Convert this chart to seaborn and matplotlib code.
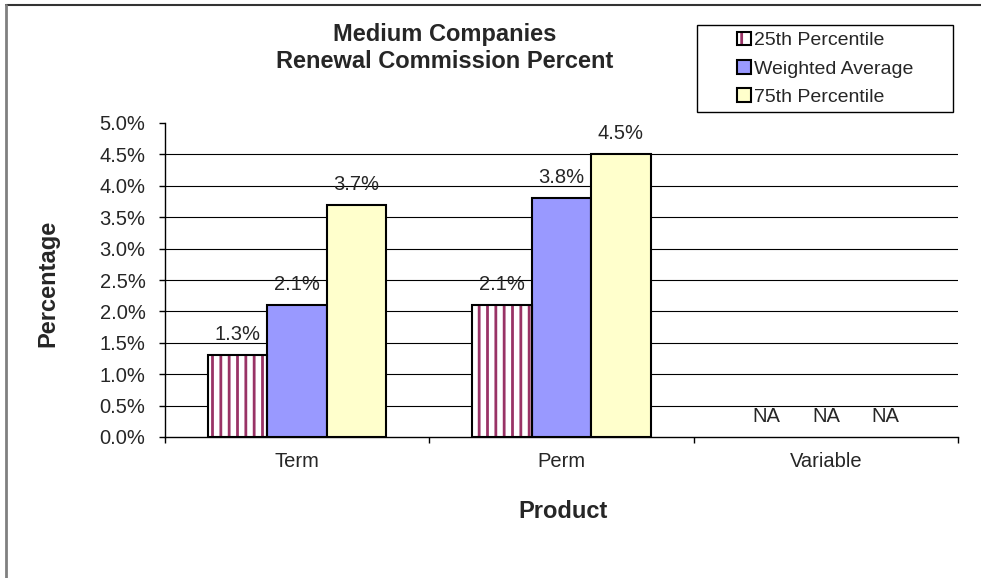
import numpy as np
import pandas as pd
import matplotlib
matplotlib.use('Agg')
import matplotlib.pyplot as plt
import seaborn as sns
from matplotlib.patches import Patch, Rectangle
from matplotlib.lines import Line2D
from matplotlib.legend_handler import HandlerTuple
from matplotlib.ticker import FuncFormatter, FixedLocator

# datos (en %)
products = ['Term', 'Perm', 'Variable']
series = ['25th Percentile', 'Weighted Average', '75th Percentile']
p25 = [1.3, 2.1, np.nan]
w_avg = [2.1, 3.8, np.nan]
p75 = [3.7, 4.5, np.nan]
yticks = [0.0, 0.5, 1.0, 1.5, 2.0, 2.5, 3.0, 3.5, 4.0, 4.5, 5.0]

colors = ['#FFFFFF', '#9999FF', '#FFFFCC']
maroon = '#993366'

sns.set_style('white')
plt.rcParams['font.family'] = ['Liberation Sans', 'DejaVu Sans']
plt.rcParams['hatch.linewidth'] = 2.0

rows = []
for name, vals in zip(series, [p25, w_avg, p75]):
    for prod, v in zip(products, vals):
        rows.append({'Product': prod, 'Serie': name, 'Valor': v})
df = pd.DataFrame(rows)
df['Plot'] = df['Valor'].fillna(0)

fig = plt.figure(figsize=(9.81, 5.78), dpi=100)
ax = fig.add_axes([165/981, 1 - 437/578, 793/981, 314/578])

sns.barplot(data=df, x='Product', y='Plot', hue='Serie', order=products,
            hue_order=series, palette=colors, edgecolor='black',
            linewidth=1.5, width=0.675, saturation=1, legend=False, ax=ax)

# rayado vertical para el percentil 25
for p in ax.containers[0]:
    p.set_facecolor('white')
    p.set_edgecolor(maroon)
    p.set_hatch('||')
    p.set_linewidth(0)
    if p.get_height() > 0:
        ax.add_patch(Rectangle(p.get_xy(), p.get_width(), p.get_height(),
                               fill=False, edgecolor='black', linewidth=1.5,
                               zorder=p.get_zorder() + 0.1))

# barras NA sin borde
for cont in ax.containers:
    for p in cont:
        if p.get_height() == 0:
            p.set_linewidth(0)

# etiquetas de datos
for cont, vals in zip(ax.containers, [p25, w_avg, p75]):
    labels = ['NA' if np.isnan(v) else f'{v:.1f}%' for v in vals]
    ax.bar_label(cont, labels=labels, padding=8, fontsize=14.5)

ax.set_ylim(0, 5)
ax.set_xlim(-0.5, 2.5)
ax.yaxis.set_major_locator(FixedLocator(yticks))
ax.yaxis.set_major_formatter(FuncFormatter(lambda v, pos: f'{v:.1f}%'))
ax.grid(axis='y', color='black', linewidth=0.8)
ax.set_axisbelow(True)
ax.get_ygridlines()[-1].set_visible(False)
ax.get_ygridlines()[0].set_visible(False)

ax.set_xticks([-0.5, 0.5, 1.5, 2.5], minor=True)
ax.tick_params(axis='x', which='major', length=0, pad=11, labelsize=14.5)
ax.tick_params(axis='x', which='minor', length=4, width=1, direction='out', color='black', bottom=True)
ax.tick_params(axis='y', which='major', length=4, width=1, direction='out', color='black', left=True, pad=10, labelsize=14.5)

for s in ['top', 'right']:
    ax.spines[s].set_visible(False)
for s in ['left', 'bottom']:
    ax.spines[s].set_color('black')
    ax.spines[s].set_linewidth(1)
ax.set_xlabel('')
ax.set_ylabel('')

fig.text(445/981, 1 - 48/578, 'Medium Companies\nRenewal Commission Percent',
         ha='center', va='center', fontsize=17, fontweight='bold', linespacing=1.2)
fig.text(48/981, 1 - 283/578, 'Percentage', rotation=90, ha='center', va='center',
         fontsize=17, fontweight='bold')
fig.text(563/981, 1 - 511/578, 'Product', ha='center', va='center',
         fontsize=17, fontweight='bold')

# leyenda con caja propia
h25 = (Patch(facecolor='white', edgecolor=maroon, hatch='|', linewidth=0),
       Patch(fill=False, edgecolor='black', linewidth=1.5))
h_w = Patch(facecolor=colors[1], edgecolor='black', linewidth=1.5)
h75 = Patch(facecolor=colors[2], edgecolor='black', linewidth=1.5)
fig.legend([h25, h_w, h75], series, handler_map={tuple: HandlerTuple(ndivide=1)},
           loc='center', bbox_to_anchor=(825/981, 1 - 69/578), frameon=False,
           fontsize=14, handlelength=0.7, handleheight=0.7, handletextpad=0.15,
           labelspacing=0.55, borderpad=0)
fig.patches.append(Rectangle((697/981, 1 - 112/578), 256/981, 87/578,
                             transform=fig.transFigure, fill=False,
                             edgecolor='black', linewidth=1, figure=fig))

# marco exterior
fig.add_artist(Line2D([6/981, 1], [1 - 5/578, 1 - 5/578], color='#333333', linewidth=1.5))
fig.add_artist(Line2D([6/981, 6/981], [0, 1 - 5/578], color='#808080', linewidth=2))

fig.savefig('out.png', dpi=100)
